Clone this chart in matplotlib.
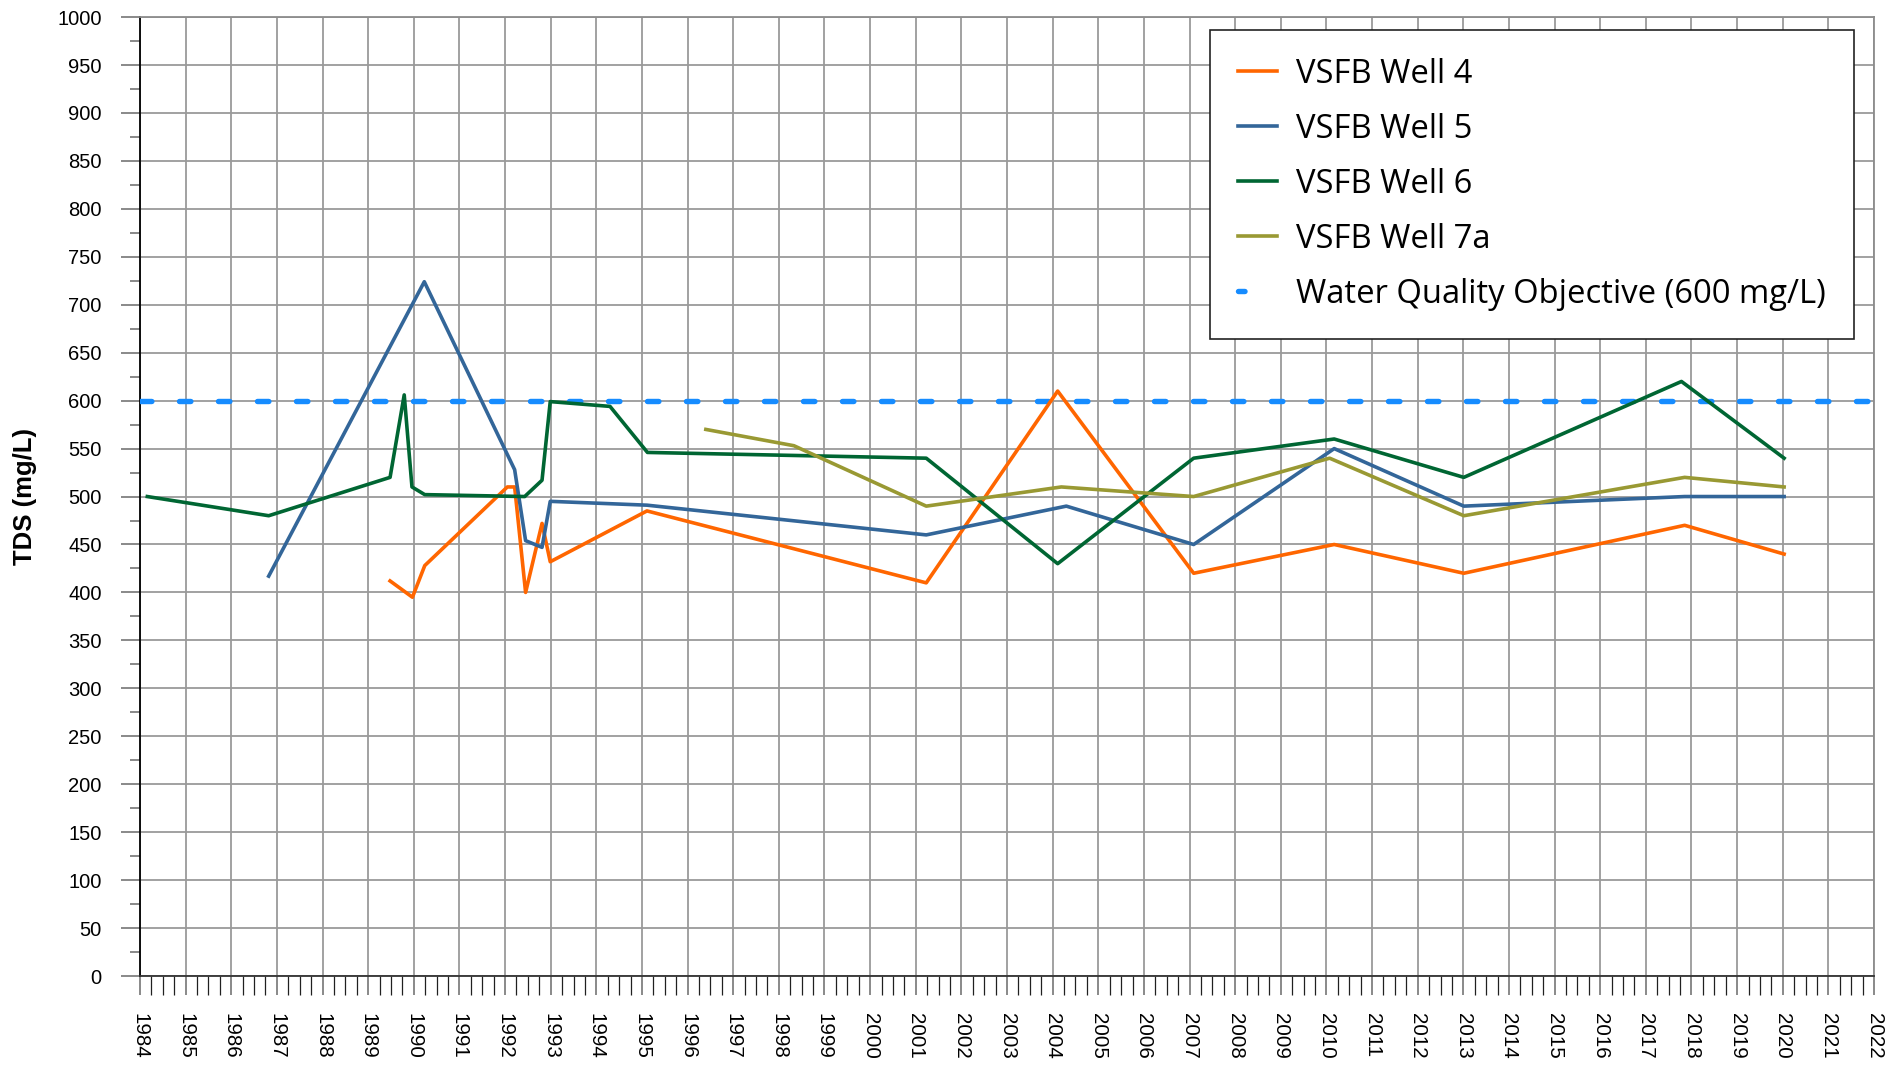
import numpy as np
import matplotlib.pyplot as plt
from matplotlib.lines import Line2D
from matplotlib.ticker import MultipleLocator

# TDS sampling results, sample dates as decimal years
well4_years = [1989.48, 1989.97, 1990.24, 1992.05, 1992.21, 1992.45, 1992.81, 1992.99,
               1995.11, 2001.23, 2004.11, 2007.09, 2010.17, 2013.01, 2017.85, 2020.03]
well4_tds = [412, 395, 428, 510, 510, 400, 472, 432, 485, 410, 610, 420, 450, 420, 470, 440]

well5_years = [1986.82, 1990.23, 1992.21, 1992.45, 1992.81, 1992.99, 1995.11, 2001.23,
               2004.30, 2007.09, 2010.17, 2013.01, 2017.85, 2020.03]
well5_tds = [417, 724, 528, 454, 447, 495, 491, 460, 490, 450, 550, 490, 500, 500]

well6_years = [1984.16, 1986.82, 1989.48, 1989.79, 1989.96, 1990.24, 1992.43, 1992.81,
               1992.99, 1994.30, 1995.12, 2001.23, 2004.11, 2007.09, 2010.17, 2013.01,
               2017.78, 2020.03]
well6_tds = [500, 480, 520, 606, 510, 502, 500, 517, 599, 594, 546, 540, 430, 540, 560,
             520, 620, 540]

well7a_years = [1996.40, 1998.33, 2001.23, 2004.19, 2007.09, 2010.07, 2013.01, 2017.85, 2020.03]
well7a_tds = [570, 553, 490, 510, 500, 540, 480, 520, 510]

wqo_years = [1984, 2022]
wqo_tds = [600, 600]

year_ticks = np.arange(1984, 2023)

c4 = '#ff6600'
c5 = '#336699'
c6 = '#006633'
c7 = '#999933'
cw = '#168cff'

fig = plt.figure(figsize=(18.92, 10.66), dpi=100)
ax = fig.add_axes([0.0740, 0.0844, 0.9165, 0.8996])

ax.plot(well4_years, well4_tds, color=c4, lw=2.6, zorder=5)
ax.plot(well5_years, well5_tds, color=c5, lw=2.6, zorder=5)
ax.plot(well6_years, well6_tds, color=c6, lw=2.6, zorder=5)
ax.plot(well7a_years, well7a_tds, color=c7, lw=2.6, zorder=5)
ax.plot(wqo_years, wqo_tds, color=cw, lw=3.9, dashes=(2.1, 5.1),
        dash_capstyle='round', zorder=4)

ax.set_xlim(1984, 2022)
ax.set_ylim(0, 1000)
ax.set_xticks(year_ticks)
ax.set_xticklabels([str(y) for y in year_ticks], rotation=270, fontsize=14.8,
                   family='Liberation Sans')
ax.xaxis.set_minor_locator(MultipleLocator(0.25))
ax.yaxis.set_major_locator(MultipleLocator(50))
ax.yaxis.set_minor_locator(MultipleLocator(25))
for lab in ax.get_yticklabels():
    lab.set_family('Liberation Sans')
    lab.set_fontsize(14.5)

ax.tick_params(axis='x', which='major', length=13.7, width=1.3, color='#808080', pad=13)
ax.tick_params(axis='x', which='minor', length=13.7, width=0.9, color='#202020')
ax.tick_params(axis='y', which='major', length=13.7, width=1.3, color='#808080', pad=14)
ax.tick_params(axis='y', which='minor', length=7.2, width=1.3, color='#808080')

ax.grid(which='major', color='#9a9a9a', lw=1.3)
ax.set_axisbelow(True)

ax.spines['left'].set_color('#000000')
ax.spines['bottom'].set_color('#333333')
ax.spines['top'].set_color('#8c8c8c')
ax.spines['right'].set_color('#8c8c8c')
for s in ax.spines.values():
    s.set_linewidth(1.3)

ax.set_ylabel('TDS (mg/L)', fontsize=18.5, fontweight='bold', family='Liberation Sans')
ax.yaxis.set_label_coords(-0.0595, 0.5)

handles = [
    Line2D([], [], color=c4, lw=2.6),
    Line2D([], [], color=c5, lw=2.6),
    Line2D([], [], color=c6, lw=2.6),
    Line2D([], [], color=c7, lw=2.6),
    Line2D([], [], color=cw, lw=3.9, dashes=(1.2, 20), dash_capstyle='round'),
]
labels = ['VSFB Well 4', 'VSFB Well 5', 'VSFB Well 6', 'VSFB Well 7a',
          'Water Quality Objective (600 mg/L)']
leg = fig.legend(handles, labels, loc='upper left', bbox_to_anchor=(0.6395, 0.9719),
                 prop={'family': 'Open Sans', 'size': 23.6}, frameon=True, fancybox=False,
                 edgecolor='#222222', framealpha=1, handlelength=1.2, handletextpad=0.58,
                 labelspacing=0.67, borderpad=0.85, borderaxespad=0)
leg.get_frame().set_linewidth(1.2)

plt.savefig('out.png', dpi=100)
